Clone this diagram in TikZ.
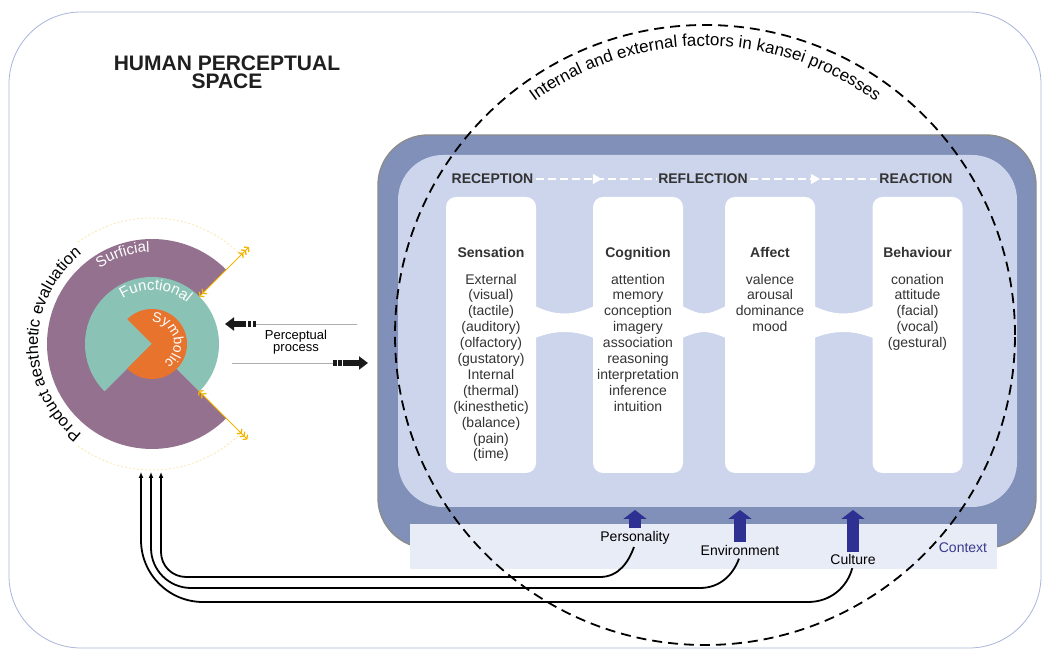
\documentclass[tikz,border=0pt]{standalone}
\usepackage{fontspec}
\setmainfont{Liberation Sans}
\usetikzlibrary{arrows.meta,decorations.text,decorations.markings}

\definecolor{cadrecol}{HTML}{A9B4DA}
\definecolor{titrecol}{HTML}{1F1F1F}
\definecolor{panneau}{HTML}{8090B8}
\definecolor{bordcol}{HTML}{8C8C8C}
\definecolor{panneauclair}{HTML}{CCD5EC}
\definecolor{contexte}{HTML}{E8ECF6}
\definecolor{textcol}{HTML}{333333}
\definecolor{ctxcol}{HTML}{2E3192}
\definecolor{ctxtext}{HTML}{3A3A8E}
\definecolor{surfcol}{HTML}{94728F}
\definecolor{functcol}{HTML}{8BC2B6}
\definecolor{symbcol}{HTML}{E8732D}
\definecolor{jaunecol}{HTML}{F5B400}
\definecolor{pointcol}{HTML}{FCE3A8}
\definecolor{blocfleche}{HTML}{1A1A1A}
\definecolor{filetcol}{HTML}{ADADAD}

% colonne blanche + son texte
\newcommand{\Colonne}[3]{
\node[colonne] (#1) at (#2,317) {};
\node[coltext, anchor=north] (#1txt) at ([yshift=-50pt]#1.north) {#3};
}
% passage blanc entre deux colonnes
\newcommand{\Pont}[2]{
\fill[white] (#1,346) .. controls (#1+20,336) and (#2-20,336) .. (#2,346)
  -- (#2,314) .. controls (#2-20,322) and (#1+20,322) .. (#1,314) -- cycle;
}

\begin{document}
\begin{tikzpicture}[x=1pt,y=1pt,
  courbe/.style 2 args={decorate, decoration={text along path, text align=center, text={|#1|#2}}},
  cadre/.style={draw=cadrecol, line width=0.8pt, rounded corners=72pt},
  titre/.style={align=center, font=\fontsize{21}{18}\selectfont\bfseries, text=titrecol, inner sep=0pt},
  colonne/.style={fill=white, rounded corners=10pt, minimum width=90pt, minimum height=276pt, inner sep=0pt},
  coltext/.style={align=center, inner sep=0pt, text=textcol, font=\fontsize{14}{15.9}\selectfont},
  etape/.style={font=\fontsize{14}{14}\selectfont\bfseries, text=textcol, inner sep=2pt},
  etapefleche/.style={white, line width=1.4pt, dash pattern=on 8pt off 4pt,
    decoration={markings, mark=at position 0.55 with {\arrow{Triangle[length=9pt,width=10pt]}}},
    postaction={decorate}},
  facteur/.style={font=\fontsize{14}{14}\selectfont, text=black, inner sep=0pt},
  ctxfleche/.style={ctxcol, line width=12pt, -{Triangle[length=9pt,width=23pt]}, shorten <=3pt},
  cercle/.style={black, line width=1.8pt, dash pattern=on 10pt off 6pt},
  retour/.style={black, line width=1.8pt, -{Latex[length=6pt,width=5pt]}, shorten <=3pt},
  bloc/.style={blocfleche, line width=6pt, -{Triangle[length=9pt,width=13pt]},
    dash pattern=on 3.5pt off 1.5pt on 3.5pt off 1.5pt on 60pt off 0pt},
  filet/.style={filetcol, line width=0.8pt},
  percept/.style={align=center, font=\fontsize{13}{11.5}\selectfont, text=black, inner sep=0pt},
  jaune/.style={jaunecol, line width=1pt,
    arrows={Straight Barb[length=2.6pt,width=7pt,line width=1.3pt]Straight Barb[length=2.6pt,width=7pt,line width=1.3pt]-Straight Barb[length=2.6pt,width=7pt,line width=1.3pt]Straight Barb[length=2.6pt,width=7pt,line width=1.3pt]Straight Barb[length=2.6pt,width=7pt,line width=1.3pt]}},
  pointille/.style={pointcol, line width=0.7pt, dash pattern=on 2pt off 2pt}]

\useasboundingbox (0,0) rectangle (1042,652);
\draw[cadre] (9,4) rectangle (1041,640);

\node[titre] (titre) at (227,580) {HUMAN PERCEPTUAL\\SPACE};

% panneau des processus
\draw[fill=panneau, draw=bordcol, line width=1.4pt, rounded corners=50pt] (378,104) rectangle (1036,517);
\fill[panneauclair, rounded corners=45pt] (398,145) rectangle (1017,497);
\fill[contexte] (410,83) rectangle (997,128);

\Pont{535}{594}
\Pont{682}{726}
\Pont{814}{873}
\Colonne{sens}{491}{\textbf{Sensation}\\[11pt]External\\(visual)\\(tactile)\\(auditory)\\(olfactory)\\(gustatory)\\Internal\\(thermal)\\(kinesthetic)\\(balance)\\(pain)\\(time)}
\Colonne{cogn}{638}{\textbf{Cognition}\\[11pt]attention\\memory\\conception\\imagery\\association\\reasoning\\interpretation\\inference\\intuition}
\Colonne{aff}{770}{\textbf{Affect}\\[11pt]valence\\arousal\\dominance\\mood}
\Colonne{beh}{917.5}{\textbf{Behaviour}\\[11pt]conation\\attitude\\(facial)\\(vocal)\\(gestural)}

\node[etape] (rec) at (492.5,473) {RECEPTION};
\node[etape] (refl) at (703,473) {REFLECTION};
\node[etape] (reac) at (916,473) {REACTION};
\draw[etapefleche] (rec) -- (refl);
\draw[etapefleche] (refl) -- (reac);

% contexte
\coordinate (haut) at (0,142);
\node[facteur] (pers) at (635,114.5) {Personality};
\node[facteur] (env) at (740,101.5) {Environment};
\node[facteur] (cult) at (853,92) {Culture};
\node[facteur, text=ctxtext] (ctx) at (963,104) {Context};
\foreach \f in {pers,env,cult}
  \draw[ctxfleche] (\f.north) -- (\f.north |- haut);

% facteurs internes et externes
\coordinate (kc) at (705,317);
\draw[cercle] (kc) circle[radius=310];
\path[courbe={\fontsize{17}{17}\selectfont}{Internal and external factors in kansei processes}, shift={(kc)}]
  (128:289) arc[start angle=128, end angle=52, radius=289];

% evaluation esthetique
\coordinate (pe) at (152,308);
\draw[pointille] (pe) ++(45:126) arc[start angle=45, end angle=126, radius=126];
\draw[pointille] (pe) ++(234:126) arc[start angle=234, end angle=315, radius=126];
\fill[surfcol] (pe) -- ++(45:105) arc[start angle=45, end angle=315, radius=105] -- cycle;
\fill[functcol] (pe) -- ++(-45:67) arc[start angle=-45, end angle=225, radius=67] -- cycle;
\fill[symbcol] (pe) -- ++(-135:35) arc[start angle=-135, end angle=135, radius=35] -- cycle;
\draw[jaune, shift={(pe)}] (45:67) -- (45:137);
\draw[jaune, shift={(pe)}] (-45:66) -- (-45:135);
\path[courbe={\fontsize{15}{15}\selectfont\color{white}}{Surficial}, shift={(pe)}]
  (160:92) arc[start angle=160, end angle=56, radius=92];
\path[courbe={\fontsize{15}{15}\selectfont\color{white}}{Functional}, shift={(pe)}]
  (166:54) arc[start angle=166, end angle=6, radius=54];
\path[courbe={\fontsize{14}{14}\selectfont\color{white}}{Symbolic}, shift={(pe)}]
  (130:22) arc[start angle=130, end angle=-96, radius=22];
\path[courbe={\fontsize{16.5}{16.5}\selectfont}{Product aesthetic evaluation}, shift={(pe)}]
  (252:114) arc[start angle=252, end angle=108, radius=114];

% processus perceptif
\node[percept] (pp) at (296,310) {Perceptual\\process};
\draw[filet] (357,328) -- (255,328);
\draw[bloc] (256,328) -- (225,328);
\draw[filet] (232,289) -- (333,289);
\draw[bloc] (333,289) -- (368,289);

% retours vers l'evaluation
\coordinate (e1) at (141,180);
\coordinate (e2) at (151,180);
\coordinate (e3) at (161,180);
\draw[retour] (pers.south) to[out=-110,in=0] (600,75) [rounded corners=25pt] -| (e3);
\draw[retour] (env.south) to[out=-110,in=0] (700,64) [rounded corners=40pt] -| (e2);
\draw[retour] (cult.south) to[out=-105,in=0] (808,50) [rounded corners=62pt] -| (e1);

\end{tikzpicture}
\end{document}
